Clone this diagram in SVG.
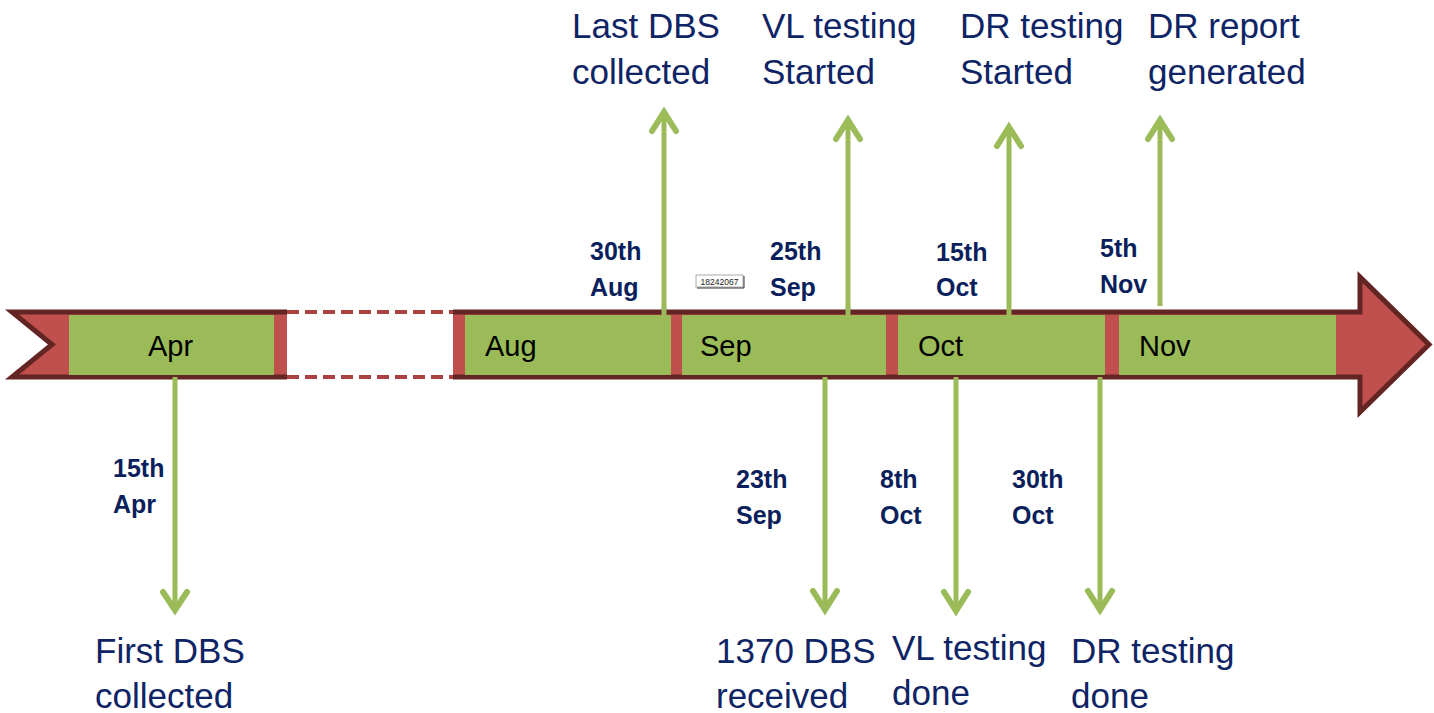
<svg xmlns="http://www.w3.org/2000/svg" width="1434" height="713" viewBox="0 0 1434 713">
<style>
.big{font-family:"Liberation Sans",Arial,sans-serif;font-size:35px;fill:#0E2465}
.date{font-family:"Liberation Sans",Arial,sans-serif;font-size:25px;font-weight:bold;fill:#0A1F5C}
.month{font-family:"Liberation Sans",Arial,sans-serif;font-size:29px;fill:#000}
.seg{fill:#9BBB59}
.conn line{stroke:#9BBB59;stroke-width:5}
.conn polyline{fill:none;stroke:#9BBB59;stroke-width:6;stroke-linecap:round;stroke-linejoin:miter}
</style>
<rect width="1434" height="713" fill="#fff"/>
<g id="timeline">
<polygon points="12,312 1360,312 1360,277 1429,344.5 1360,412 1360,377 12,377 52,344.5" fill="#C0504D" stroke="#632523" stroke-width="5" stroke-linejoin="miter"/>
<rect x="287" y="306" width="166" height="77" fill="#fff"/>
<line x1="287" y1="312" x2="453" y2="312" stroke="#A9413E" stroke-width="4" stroke-dasharray="12 6"/>
<line x1="287" y1="377" x2="453" y2="377" stroke="#A9413E" stroke-width="4" stroke-dasharray="12 6"/>
</g>
<g id="month-apr"><rect class="seg" x="69" y="315" width="205" height="60"/><text class="month" x="148" y="356">Apr</text></g>
<g id="month-aug"><rect class="seg" x="465" y="315" width="206" height="60"/><text class="month" x="485" y="356">Aug</text></g>
<g id="month-sep"><rect class="seg" x="682" y="315" width="204" height="60"/><text class="month" x="700" y="356">Sep</text></g>
<g id="month-oct"><rect class="seg" x="898" y="315" width="207" height="60"/><text class="month" x="918" y="356">Oct</text></g>
<g id="month-nov"><rect class="seg" x="1119" y="315" width="217" height="60"/><text class="month" x="1139" y="356">Nov</text></g>
<g id="tag">
<rect x="696" y="275" width="47" height="12" fill="#fff" stroke="#aaa" stroke-width="1"/>
<polyline points="744,276 744,288 697,288" fill="none" stroke="#333" stroke-width="1"/>
<text x="719.5" y="284.5" font-family="'Liberation Sans',Arial,sans-serif" font-size="8.5" text-anchor="middle" fill="#222">18242067</text>
</g>
<g class="conn" id="connectors">
<line x1="175" y1="377" x2="175" y2="608"/><polyline points="163,592 175,610 187,592"/>
<line x1="664" y1="316" x2="664" y2="114"/><polyline points="652,131 664,112 676,131"/>
<line x1="848" y1="316" x2="848" y2="122"/><polyline points="836,139 848,120 860,139"/>
<line x1="1009" y1="316" x2="1009" y2="129"/><polyline points="997,146 1009,127 1021,146"/>
<line x1="1160" y1="306" x2="1160" y2="122"/><polyline points="1148,139 1160,120 1172,139"/>
<line x1="825" y1="377" x2="825" y2="608"/><polyline points="813,591 825,610 837,591"/>
<line x1="956" y1="377" x2="956" y2="609"/><polyline points="944,592 956,611 968,592"/>
<line x1="1100" y1="377" x2="1100" y2="608"/><polyline points="1088,591 1100,610 1112,591"/>
</g>
<g id="ev-first">
<text class="date" x="113" y="477">15th</text><text class="date" x="113" y="513">Apr</text>
<text class="big" x="95" y="663">First DBS</text><text class="big" x="95" y="708">collected</text>
</g>
<g id="ev-last">
<text class="date" x="590" y="260">30th</text><text class="date" x="590" y="296">Aug</text>
<text class="big" x="572" y="38">Last DBS</text><text class="big" x="572" y="84">collected</text>
</g>
<g id="ev-vlstart">
<text class="date" x="770" y="260">25th</text><text class="date" x="770" y="296">Sep</text>
<text class="big" x="762" y="38">VL testing</text><text class="big" x="762" y="84">Started</text>
</g>
<g id="ev-drstart">
<text class="date" x="936" y="261">15th</text><text class="date" x="936" y="296">Oct</text>
<text class="big" x="960" y="38">DR testing</text><text class="big" x="960" y="84">Started</text>
</g>
<g id="ev-report">
<text class="date" x="1100" y="257">5th</text><text class="date" x="1100" y="293">Nov</text>
<text class="big" x="1148" y="38">DR report</text><text class="big" x="1148" y="84">generated</text>
</g>
<g id="ev-received">
<text class="date" x="736" y="488">23th</text><text class="date" x="736" y="524">Sep</text>
<text class="big" x="716" y="663">1370 DBS</text><text class="big" x="716" y="708">received</text>
</g>
<g id="ev-vldone">
<text class="date" x="880" y="488">8th</text><text class="date" x="880" y="524">Oct</text>
<text class="big" x="892" y="660">VL testing</text><text class="big" x="892" y="705">done</text>
</g>
<g id="ev-drdone">
<text class="date" x="1012" y="488">30th</text><text class="date" x="1012" y="524">Oct</text>
<text class="big" x="1071" y="663">DR testing</text><text class="big" x="1071" y="708">done</text>
</g>
</svg>
